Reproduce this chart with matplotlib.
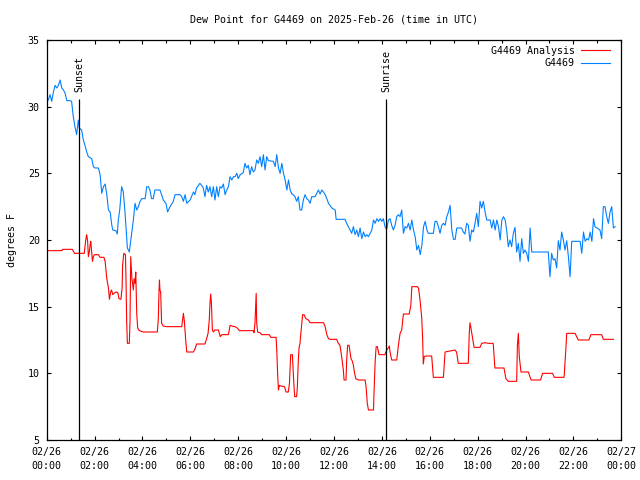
import numpy as np
import matplotlib
matplotlib.use('Agg')
import matplotlib.pyplot as plt

# dew point, hours since 2025-02-26 00:00 UTC
obs_hours = [0.07, 0.14, 0.21, 0.28, 0.35, 0.42, 0.49, 0.56, 0.63, 0.70, 0.77, 0.84, 0.98, 1.04,
             1.11, 1.18, 1.25, 1.32, 1.36, 1.46, 1.53, 1.60, 1.67, 1.74, 1.88, 1.95, 2.02, 2.16,
             2.23, 2.30, 2.37, 2.44, 2.51, 2.58, 2.65, 2.72, 2.76, 2.89, 2.95, 2.99, 3.05, 3.13,
             3.20, 3.27, 3.31, 3.37, 3.45, 3.55, 3.62, 3.69, 3.76, 3.83, 3.90, 3.97, 4.11, 4.18,
             4.25, 4.31, 4.38, 4.45, 4.52, 4.73, 4.80, 4.87, 4.98, 5.05, 5.15, 5.29, 5.36, 5.57,
             5.64, 5.71, 5.78, 5.85, 5.99, 6.13, 6.19, 6.26, 6.40, 6.47, 6.54, 6.61, 6.68, 6.75,
             6.82, 6.89, 6.96, 7.03, 7.10, 7.17, 7.24, 7.31, 7.38, 7.45, 7.52, 7.59, 7.66, 7.73,
             7.80, 7.87, 7.94, 8.00, 8.08, 8.21, 8.28, 8.35, 8.42, 8.49, 8.56, 8.63, 8.70, 8.77,
             8.84, 8.91, 8.98, 9.05, 9.12, 9.19, 9.26, 9.47, 9.54, 9.61, 9.68, 9.75, 9.82, 9.89,
             9.96, 10.03, 10.10, 10.17, 10.24, 10.30, 10.37, 10.44, 10.51, 10.58, 10.65, 10.72,
             10.79, 10.86, 10.93, 11.00, 11.07, 11.21, 11.28, 11.35, 11.42, 11.49, 11.56, 11.63,
             11.70, 11.77, 11.91, 12.05, 12.09, 12.46, 12.53, 12.60, 12.67, 12.74, 12.81, 12.88,
             12.95, 13.02, 13.09, 13.16, 13.23, 13.30, 13.37, 13.44, 13.58, 13.65, 13.72, 13.79,
             13.86, 13.93, 14.00, 14.06, 14.13, 14.20, 14.27, 14.34, 14.41, 14.48, 14.55, 14.62,
             14.69, 14.76, 14.83, 14.90, 14.97, 15.04, 15.11, 15.18, 15.25, 15.32, 15.39, 15.46,
             15.53, 15.60, 15.67, 15.74, 15.81, 15.88, 15.94, 16.15, 16.22, 16.29, 16.36, 16.43,
             16.50, 16.57, 16.64, 16.71, 16.78, 16.85, 16.92, 16.99, 17.06, 17.13, 17.33, 17.40,
             17.47, 17.54, 17.61, 17.68, 17.75, 17.82, 17.89, 17.96, 18.03, 18.10, 18.17, 18.24,
             18.31, 18.38, 18.52, 18.59, 18.66, 18.73, 18.80, 18.87, 18.94, 19.01, 19.08, 19.15,
             19.22, 19.28, 19.35, 19.42, 19.49, 19.56, 19.63, 19.70, 19.77, 19.84, 19.91, 19.98,
             20.05, 20.12, 20.19, 20.26, 20.33, 20.95, 21.02, 21.09, 21.16, 21.23, 21.30, 21.37,
             21.44, 21.51, 21.58, 21.65, 21.72, 21.79, 21.86, 21.93, 22.28, 22.35, 22.42, 22.49,
             22.56, 22.63, 22.70, 22.77, 22.84, 22.90, 23.11, 23.18, 23.25, 23.32, 23.39, 23.46,
             23.53, 23.60, 23.67, 23.74]
obs_vals = [30.5, 30.9, 30.4, 31.1, 31.6, 31.4, 31.6, 32.0, 31.4, 31.25, 31.0, 30.45, 30.45, 30.4,
            29.25, 28.5, 27.9, 29.0, 28.4, 28.25, 27.5, 27.1, 26.6, 26.25, 26.1, 25.5, 25.4, 25.4,
            24.9, 23.5, 24.0, 24.2, 23.4, 22.25, 22.1, 21.1, 20.75, 20.7, 20.45, 21.5, 22.25, 24.0,
            23.6, 22.1, 21.0, 19.4, 19.1, 20.5, 21.5, 22.75, 22.25, 22.5, 22.9, 23.1, 23.1, 24.0,
            24.0, 23.75, 23.1, 23.1, 23.75, 23.75, 23.4, 23.0, 22.75, 22.1, 22.5, 22.9, 23.4, 23.4,
            23.25, 22.9, 23.4, 22.75, 23.0, 23.6, 23.4, 23.9, 24.25, 24.1, 23.9, 23.25, 24.1, 23.6,
            24.0, 23.25, 24.0, 23.0, 24.0, 23.25, 24.0, 23.9, 24.2, 23.4, 23.75, 24.0, 24.75, 24.5,
            24.75, 24.75, 25.0, 24.6, 24.9, 25.05, 25.75, 25.4, 25.6, 24.9, 25.5, 25.1, 25.25, 26.0,
            25.75, 26.25, 25.5, 26.4, 25.25, 26.25, 25.95, 25.9, 25.5, 26.4, 25.4, 25.0, 25.75, 25.0,
            24.5, 23.75, 24.5, 23.75, 23.45, 23.4, 23.25, 22.9, 23.25, 22.25, 22.25, 23.0,
            23.4, 23.1, 23.0, 22.75, 23.25, 23.25, 23.5, 23.75, 23.45, 23.75, 23.6, 23.4,
            23.1, 22.75, 22.4, 22.25, 21.55, 21.55, 21.25, 21.0, 20.75, 20.5, 21.0, 20.4,
            20.75, 20.25, 20.9, 20.1, 20.6, 20.25, 20.4, 20.25, 20.75, 21.5, 21.25, 21.6,
            21.4, 21.6, 21.4, 21.6, 21.0, 20.8, 21.5, 21.6, 21.1, 20.75, 21.1, 21.75,
            21.9, 21.75, 22.25, 20.5, 21.0, 20.9, 21.25, 20.75, 21.5, 20.75, 20.25, 19.25,
            19.6, 18.9, 19.6, 21.0, 21.4, 20.75, 20.5, 20.5, 21.4, 21.4, 21.0, 20.5,
            21.1, 21.25, 21.1, 21.75, 22.1, 22.6, 20.75, 20.05, 20.05, 20.9, 20.9, 20.6,
            20.45, 21.25, 21.1, 19.9, 20.75, 20.6, 21.25, 22.0, 21.0, 22.9, 22.4, 22.9,
            22.1, 21.5, 21.5, 20.9, 21.5, 20.75, 21.5, 21.0, 20.0, 21.5, 21.75, 21.5,
            20.6, 19.5, 20.0, 19.5, 20.5, 20.95, 19.1, 19.75, 18.4, 20.1, 19.0, 19.25,
            19.0, 18.4, 20.9, 19.1, 19.1, 19.1, 17.25, 19.0, 18.5, 18.6, 17.9, 19.95,
            19.25, 20.6, 20.0, 19.25, 19.95, 18.75, 17.25, 19.9, 19.9, 19.0, 20.6, 19.9,
            20.1, 20.0, 20.6, 19.9, 21.6, 21.0, 20.75, 20.1, 22.5, 22.5, 21.75, 21.25,
            22.1, 22.5, 20.9, 21.0]

ana_hours = [0.07, 0.63, 0.67, 1.07, 1.16, 1.57, 1.63, 1.67, 1.71, 1.74, 1.78, 1.81, 1.84, 1.88,
             1.91, 1.95, 1.99, 2.16, 2.23, 2.39, 2.44, 2.51, 2.58, 2.62, 2.67, 2.71, 2.76, 2.81,
             2.90, 2.97, 3.02, 3.10, 3.15, 3.17, 3.22, 3.29, 3.31, 3.34, 3.37, 3.45, 3.48, 3.51,
             3.56, 3.62, 3.65, 3.69, 3.72, 3.76, 3.80, 3.87, 4.04, 4.62, 4.66, 4.69, 4.71, 4.73,
             4.76, 4.80, 4.87, 5.01, 5.64, 5.71, 5.75, 5.81, 5.85, 6.13, 6.21, 6.26, 6.61, 6.68,
             6.74, 6.79, 6.82, 6.85, 6.88, 6.92, 6.96, 7.03, 7.17, 7.21, 7.25, 7.31, 7.59, 7.66,
             7.73, 7.87, 7.96, 8.05, 8.63, 8.66, 8.70, 8.75, 8.77, 8.81, 8.91, 8.98, 9.30, 9.36,
             9.58, 9.61, 9.65, 9.68, 9.72, 9.78, 9.93, 10.00, 10.09, 10.14, 10.17, 10.19, 10.26,
             10.30, 10.33, 10.36, 10.44, 10.47, 10.51, 10.54, 10.58, 10.61, 10.67, 10.69, 10.75,
             10.82, 10.93, 11.00, 11.56, 11.63, 11.70, 11.77, 11.84, 12.11, 12.18, 12.25, 12.32,
             12.39, 12.42, 12.50, 12.53, 12.57, 12.63, 12.67, 12.71, 12.77, 12.81, 12.85, 12.91,
             13.02, 13.30, 13.34, 13.39, 13.44, 13.65, 13.67, 13.72, 13.76, 13.81, 13.88, 14.13,
             14.20, 14.27, 14.31, 14.34, 14.41, 14.62, 14.69, 14.76, 14.83, 14.87, 14.90, 15.14,
             15.21, 15.25, 15.48, 15.53, 15.59, 15.66, 15.70, 15.73, 15.77, 15.84, 16.08, 16.15,
             16.57, 16.64, 17.05, 17.12, 17.19, 17.61, 17.65, 17.68, 17.72, 17.79, 17.85, 18.10,
             18.17, 18.31, 18.45, 18.65, 18.72, 18.79, 19.10, 19.18, 19.28, 19.63, 19.66, 19.70,
             19.74, 19.81, 20.12, 20.23, 20.63, 20.71, 21.13, 21.20, 21.61, 21.69, 21.72, 22.07,
             22.20, 22.65, 22.73, 23.18, 23.25, 23.67]
ana_vals = [19.2, 19.2, 19.3, 19.3, 19.0, 19.0, 20.0, 20.4, 19.9, 18.75, 19.1, 19.6, 19.9, 19.0,
            18.4, 18.75, 18.9, 18.9, 18.7, 18.7, 18.4, 17.1, 16.4, 15.55, 16.1, 16.25, 15.9, 16.0,
            16.1, 16.05, 15.6, 15.55, 16.4, 18.1, 19.0, 18.9, 17.25, 13.9, 12.25, 12.25, 13.9, 18.75,
            17.1, 16.25, 17.1, 16.75, 17.6, 14.5, 13.4, 13.2, 13.1, 13.1, 14.0, 16.1, 17.0, 16.25,
            16.1, 13.75, 13.55, 13.5, 13.5, 14.5, 13.9, 12.4, 11.6, 11.6, 11.9, 12.2, 12.2, 12.6,
            13.0, 14.0, 15.25, 15.95, 15.25, 13.25, 13.1, 13.25, 13.25, 13.0, 12.75, 12.9, 12.9, 13.6,
            13.55, 13.5, 13.4, 13.2, 13.2, 13.05, 13.8, 16.0, 13.8, 13.1, 13.05, 12.9, 12.9, 12.7,
            12.7, 11.75, 9.75, 8.75, 9.1, 9.05, 9.0, 8.6, 8.6, 9.25, 10.6, 11.4, 11.4,
            10.0, 9.0, 8.25, 8.25, 9.0, 11.0, 11.9, 12.25, 12.9, 14.0, 14.4, 14.4,
            14.1, 14.0, 13.8, 13.8, 13.5, 12.9, 12.6, 12.55, 12.55, 12.25, 12.1, 11.25,
            10.25, 9.5, 9.5, 11.0, 12.1, 12.1, 11.6, 11.1, 10.9, 10.6, 10.1, 9.6,
            9.5, 9.5, 9.0, 7.75, 7.25, 7.25, 8.5, 10.9, 12.0, 12.0, 11.4, 11.4,
            11.75, 11.9, 12.05, 11.6, 11.0, 11.0, 12.1, 13.0, 13.25, 14.0, 14.45, 14.45,
            15.1, 16.5, 16.5, 16.4, 15.55, 14.25, 12.75, 10.7, 11.25, 11.3, 11.3, 9.7,
            9.7, 11.6, 11.75, 11.6, 10.75, 10.75, 13.0, 13.8, 13.4, 12.6, 11.95, 11.95,
            12.25, 12.3, 12.25, 12.25, 10.4, 10.4, 10.4, 9.6, 9.4, 9.4, 12.1, 13.0,
            11.25, 10.1, 10.1, 9.5, 9.5, 10.0, 10.0, 9.7, 9.7, 12.0, 13.0, 13.0,
            12.5, 12.5, 12.9, 12.9, 12.55, 12.55]

sunset_h = 1.36
sunrise_h = 14.19
xtick_labels = ['02/26\n00:00', '02/26\n02:00', '02/26\n04:00', '02/26\n06:00', '02/26\n08:00',
                '02/26\n10:00', '02/26\n12:00', '02/26\n14:00', '02/26\n16:00', '02/26\n18:00',
                '02/26\n20:00', '02/26\n22:00', '02/27\n00:00']

plt.rcParams['font.family'] = ['DejaVu Sans Mono']
plt.rcParams['font.size'] = 7.2

fig = plt.figure(figsize=(6.4, 4.8), dpi=100)
ax = fig.add_axes([46.7 / 640, 40 / 480, 574.6 / 640, 400 / 480])

l_obs, = ax.plot(obs_hours, obs_vals, color='#0080ff', lw=0.8)
l_ana, = ax.plot(ana_hours, ana_vals, color='#ff0000', lw=0.8)

for h, name in [(sunset_h, 'Sunset'), (sunrise_h, 'Sunrise')]:
    ax.vlines(h, 5, 30.6, color='black', lw=0.9)
    ax.text(h, 31.1, name, rotation=90, ha='center', va='bottom')

ax.set_xlim(0, 24)
ax.set_ylim(5, 35)
ax.set_xticks(np.arange(0, 25, 2))
ax.set_xticks(np.arange(1, 24, 2), minor=True)
ax.set_xticklabels(xtick_labels, linespacing=1.45)
ax.set_yticks(np.arange(5, 36, 5))
ax.tick_params(which='both', direction='in', top=True, right=True, width=0.8)
ax.tick_params(which='major', length=3.2, pad=5)
ax.tick_params(which='minor', length=1.8)
for s in ax.spines.values():
    s.set_linewidth(0.9)

ax.set_ylabel('degrees F', labelpad=8)
ax.set_title('Dew Point for G4469 on 2025-Feb-26 (time in UTC)', pad=12.5, fontsize=7.2)
ax.legend([l_ana, l_obs], ['G4469 Analysis', 'G4469'], loc='upper right', frameon=False,
          markerfirst=False, handlelength=2.9, handletextpad=0.6, labelspacing=0.25,
          borderaxespad=0.5, borderpad=0.1, bbox_to_anchor=(0.99, 1.0))

plt.savefig('out.png', dpi=100)
